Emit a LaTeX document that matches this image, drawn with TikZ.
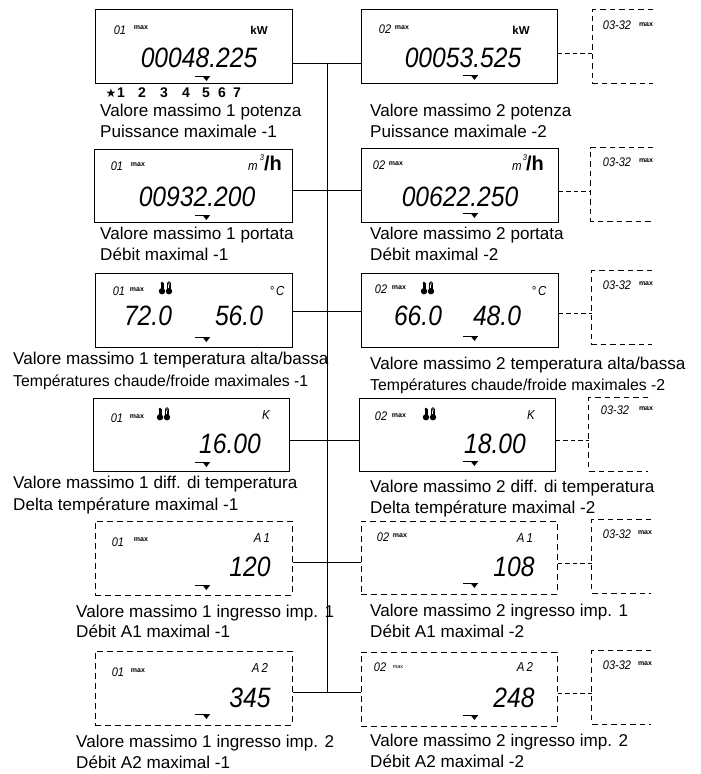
\documentclass[tikz,border=0pt]{standalone}
\usepackage{fontspec}
\setmainfont{Liberation Sans}
\newfontfamily\lcdfont[FakeStretch=0.88]{Liberation Sans}
\newfontfamily\symfont{DejaVu Sans}
\tikzset{
  x=1pt,y=-1pt,
  solidbox/.style={draw=black,line width=1pt,inner sep=0pt,rectangle},
  dashbox/.style={draw=black,line width=1pt,inner sep=0pt,rectangle,dash pattern=on 6pt off 4pt},
  openbox/.style={inner sep=0pt,rectangle},
  link/.style={draw=black,line width=0.9pt},
  dashlink/.style={draw=black,line width=0.9pt,dash pattern=on 4.5pt off 3pt},
  opendash/.style={draw=black,line width=0.9pt,dash pattern=on 5.5pt off 4pt},
  lbl/.style={anchor=west,inner sep=0pt,text height=13pt,text depth=3pt,font=\fontsize{17.1}{17}\selectfont},
  lblsmall/.style={anchor=west,inner sep=0pt,text height=12pt,text depth=3pt,font=\fontsize{15.8}{16}\selectfont},
  big/.style={inner sep=0pt,font=\lcdfont\itshape\fontsize{28}{28}\selectfont},
  idx/.style={inner sep=0pt,font=\lcdfont\itshape\fontsize{12.5}{13}\selectfont},
  maxl/.style={inner sep=0pt,font=\bfseries\fontsize{7}{7}\selectfont},
  unitb/.style={inner sep=0pt,font=\bfseries\fontsize{11.5}{12}\selectfont},
  unitl/.style={inner sep=0pt,font=\lcdfont\itshape\fontsize{13}{13}\selectfont},
  hunit/.style={inner sep=0pt,font=\bfseries\fontsize{20}{20}\selectfont},
  expo/.style={inner sep=0pt,font=\lcdfont\itshape\fontsize{8.5}{9}\selectfont},
  tick/.style={inner sep=0pt,font=\bfseries\fontsize{14}{14}\selectfont},
  starl/.style={inner sep=0pt,font=\symfont\fontsize{12}{12}\selectfont},
}
% name, style, x1, y1, x2, y2
\newcommand\panel[6]{\node[#2,minimum width={(#5-#3)*1pt},minimum height={(#6-#4)*1pt}] (#1) at ({(#3+#5)/2},{(#4+#6)/2}) {};}
% open box on the right
\newcommand\openpanel[5]{\panel{#1}{openbox}{#2}{#3}{#4}{#5}\draw[opendash] (#1.north east) -- (#1.north west) -- (#1.south west) -- (#1.south east);}
% pointer marker
\newcommand\pointer[2]{\draw[line width=0.9pt] (#1,#2) -- (#1+15,#2);\fill (#1+7.5,#2) -- (#1+15,#2) -- (#1+11.5,#2+5) -- cycle;}
% thermometers icon centred
\newcommand\thermo[2]{\begin{scope}[shift={(#1,#2)}]
  \fill (-4,3.2) circle (3.2);\fill (-5.5,-5) rectangle (-2.5,3);
  \fill (-4,-5) circle (1.5);
  \fill (3,3.2) circle (3.2);\draw[line width=0.7pt] (1.6,-5) -- (1.6,2) (4.4,-5) -- (4.4,2);
  \draw[line width=0.7pt] (3,-5) circle (1.4);
  \fill (2.5,-3) rectangle (3.5,2);
\end{scope}}
\begin{document}
\begin{tikzpicture}
\useasboundingbox (0,0) rectangle (701,774);
% panels
\panel{a1}{solidbox}{95}{9}{292}{83}
\panel{a2}{solidbox}{94}{149}{292}{222}
\panel{a3}{solidbox}{95}{273}{292}{347}
\panel{a4}{solidbox}{93}{398}{289}{471}
\panel{a5}{dashbox}{95}{521}{292}{595}
\panel{a6}{dashbox}{95}{651}{292}{725}
\panel{b1}{solidbox}{361}{9}{557}{83}
\panel{b2}{solidbox}{361}{148}{558}{222}
\panel{b3}{solidbox}{361}{273}{558}{347}
\panel{b4}{solidbox}{359}{398}{555}{471}
\panel{b5}{dashbox}{361}{521}{557}{594}
\panel{b6}{dashbox}{361}{652}{557}{726}
\openpanel{c1}{593}{10}{653}{83}
\openpanel{c2}{591}{148}{653}{221}
\openpanel{c3}{592}{271}{652}{344}
\openpanel{c4}{589}{398}{648}{471}
\openpanel{c5}{592}{520}{651}{593}
\openpanel{c6}{592}{651}{651}{724}
% connectors
\coordinate (j1) at (327,63);
\coordinate (j2) at (327,190);
\coordinate (j3) at (327,311);
\coordinate (j4) at (327,440);
\coordinate (j5) at (327,562);
\coordinate (j6) at (327,692);
\draw[link] (j1) -- (j6);
\foreach \r in {1,...,6}{\draw[link] (a\r.east |- j\r) -- (b\r.west |- j\r);}
\coordinate (k1) at (575,53);
\coordinate (k2) at (575,191);
\coordinate (k3) at (575,313);
\coordinate (k4) at (575,440);
\coordinate (k5) at (575,563);
\coordinate (k6) at (575,693);
\foreach \r in {1,...,6}{\draw[dashlink] (b\r.east |- k\r) -- (c\r.west |- k\r);}
% pointers
\pointer{195}{76}\pointer{195}{215}\pointer{195}{337}\pointer{195}{462}\pointer{195}{585}\pointer{195}{714}
\pointer{463}{75}\pointer{463}{213}\pointer{463}{336}\pointer{463}{461}\pointer{463}{583}\pointer{463}{715}
% row 1
\node[idx] (a1i) at (120,30) {01};
\node[maxl] (a1m) at (141,28) {max};
\node[unitb] (a1u) at (259,30) {kW};
\node[big] (a1n) at (199,58) {00048.225};
\node[idx] (b1i) at (385,29) {02};
\node[maxl] (b1m) at (402,28) {max};
\node[unitb] (b1u) at (521,30) {kW};
\node[big] (b1n) at (463,58) {00053.525};
\node[starl] (t0) at (111,93) {★};
\node[tick] (t1) at (121,93) {1};
\node[tick] (t2) at (142,93) {2};
\node[tick] (t3) at (164,93) {3};
\node[tick] (t4) at (186,93) {4};
\node[tick] (t5) at (206,93) {5};
\node[tick] (t6) at (222,93) {6};
\node[tick] (t7) at (237,93) {7};
\node[lbl] (a1l) at (100,111) {Valore massimo 1 potenza};
\node[lbl] (a1k) at (100,132) {Puissance maximale -1};
\node[lbl] (b1l) at (370,111) {Valore massimo 2 potenza};
\node[lbl] (b1k) at (370,132) {Puissance maximale -2};
% row 2
\node[idx] (a2i) at (117,166) {01};
\node[maxl] (a2m) at (138,165) {max};
\node[unitl] (a2u) at (253,167) {m};
\node[expo] (a2e) at (262,158) {3};
\node[hunit] (a2h) at (273,163) {/h};
\node[big] (a2n) at (197,197) {00932.200};
\node[idx] (b2i) at (379,165) {02};
\node[maxl] (b2m) at (396,164) {max};
\node[unitl] (b2u) at (517,167) {m};
\node[expo] (b2e) at (525,158) {3};
\node[hunit] (b2h) at (535,163) {/h};
\node[big] (b2n) at (460,197) {00622.250};
\node[lbl] (a2l) at (100,234) {Valore massimo 1 portata};
\node[lbl] (a2k) at (100,255) {Débit maximal -1};
\node[lbl] (b2l) at (370,234) {Valore massimo 2 portata};
\node[lbl] (b2k) at (370,255) {Débit maximal -2};
% row 3
\node[idx] (a3i) at (119,291) {01};
\node[maxl] (a3m) at (137,290) {max};
\thermo{166}{288}
\node[unitl] (a3u) at (277,291) {°\,C};
\node[big] (a3n) at (148,316) {72.0};
\node[big] (a3o) at (239,316) {56.0};
\node[idx] (b3i) at (381,289) {02};
\node[maxl] (b3m) at (399,288) {max};
\thermo{428}{288}
\node[unitl] (b3u) at (539,291) {°\,C};
\node[big] (b3n) at (418,316) {66.0};
\node[big] (b3o) at (497,316) {48.0};
\node[lbl] (a3l) at (13,359) {Valore massimo 1 temperatura alta/bassa};
\node[lblsmall] (a3k) at (13,382) {Températures chaude/froide maximales -1};
\node[lbl] (b3l) at (370,364) {Valore massimo 2 temperatura alta/bassa};
\node[lblsmall] (b3k) at (370,386) {Températures chaude/froide maximales -2};
% row 4
\node[idx] (a4i) at (117,418) {01};
\node[maxl] (a4m) at (137,417) {max};
\thermo{164}{414}
\node[unitl] (a4u) at (266,415) {K};
\node[big] (a4n) at (230,444) {16.00};
\node[idx] (b4i) at (381,416) {02};
\node[maxl] (b4m) at (399,416) {max};
\thermo{430}{414}
\node[unitl] (b4u) at (531,415) {K};
\node[big] (b4n) at (495,444) {18.00};
\node[lbl] (a4l) at (13,483) {Valore massimo 1 diff. di temperatura};
\node[lbl] (a4k) at (13,505) {Delta température maximal -1};
\node[lbl] (b4l) at (370,487) {Valore massimo 2 diff. di temperatura};
\node[lbl] (b4k) at (370,508) {Delta température maximal -2};
% row 5
\node[idx] (a5i) at (118,542) {01};
\node[maxl] (a5m) at (141,540) {max};
\node[unitl] (a5u) at (262,538) {A\,1};
\node[big] (a5n) at (250,567) {120};
\node[idx] (b5i) at (383,537) {02};
\node[maxl] (b5m) at (400,536) {max};
\node[unitl] (b5u) at (525,538) {A\,1};
\node[big] (b5n) at (514,567) {108};
\node[lbl] (a5l) at (76,612) {Valore massimo 1 ingresso imp. 1};
\node[lbl] (a5k) at (76,632) {Débit A1 maximal -1};
\node[lbl] (b5l) at (370,611) {Valore massimo 2 ingresso imp. 1};
\node[lbl] (b5k) at (370,632) {Débit A1 maximal -2};
% row 6
\node[idx] (a6i) at (118,672) {01};
\node[maxl] (a6m) at (138,671) {max};
\node[unitl] (a6u) at (260,668) {A\,2};
\node[big] (a6n) at (250,698) {345};
\node[idx] (b6i) at (380,667) {02};
\node[maxl,font=\fontsize{5.5}{6}\selectfont] (b6m) at (398,667) {max};
\node[unitl] (b6u) at (525,667) {A\,2};
\node[big] (b6n) at (514,698) {248};
\node[lbl] (a6l) at (76,742) {Valore massimo 1 ingresso imp. 2};
\node[lbl] (a6k) at (76,763) {Débit A2 maximal -1};
\node[lbl] (b6l) at (370,741) {Valore massimo 2 ingresso imp. 2};
\node[lbl] (b6k) at (370,762) {Débit A2 maximal -2};
% third column
\node[idx] (c1i) at (617,25) {03-32};
\node[maxl] (c1m) at (646,25) {max};
\node[idx] (c2i) at (617,162) {03-32};
\node[maxl] (c2m) at (646,161) {max};
\node[idx] (c3i) at (617,285) {03-32};
\node[maxl] (c3m) at (646,284) {max};
\node[idx] (c4i) at (615,410) {03-32};
\node[maxl] (c4m) at (646,409) {max};
\node[idx] (c5i) at (617,534) {03-32};
\node[maxl] (c5m) at (645,533) {max};
\node[idx] (c6i) at (617,665) {03-32};
\node[maxl] (c6m) at (645,664) {max};
\end{tikzpicture}
\end{document}
